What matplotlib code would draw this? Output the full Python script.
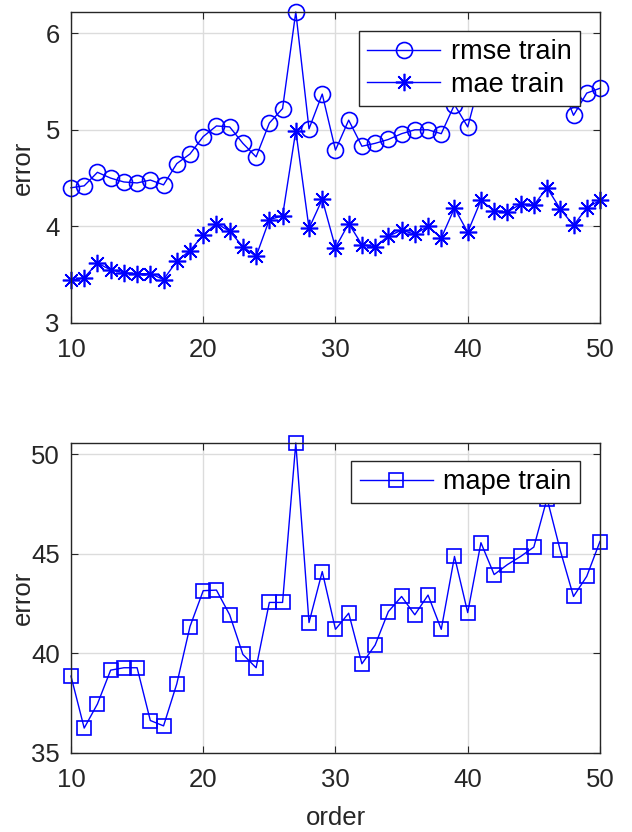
import numpy as np
import matplotlib
matplotlib.use('Agg')
import matplotlib.pyplot as plt

# orders 10..50
order = list(range(10, 51))

rmse_train = [4.40, 4.42, 4.56, 4.50, 4.46, 4.45, 4.48, 4.43, 4.65, 4.75,
              4.93, 5.04, 5.03, 4.86, 4.72, 5.07, 5.22, 6.22, 5.01, 5.37,
              4.79, 5.10, 4.83, 4.86, 4.90, 4.96, 5.00, 5.00, 4.96, 5.26,
              5.03, 5.55, 5.45, 5.45, 5.50, 5.52, 5.75, 5.50, 5.15, 5.38,
              5.43]
mae_train = [3.44, 3.47, 3.62, 3.55, 3.52, 3.51, 3.51, 3.45, 3.64, 3.75,
             3.91, 4.03, 3.95, 3.79, 3.69, 4.07, 4.11, 4.99, 3.98, 4.28,
             3.78, 4.03, 3.81, 3.79, 3.90, 3.96, 3.92, 4.00, 3.88, 4.19,
             3.94, 4.27, 4.16, 4.15, 4.23, 4.22, 4.40, 4.18, 4.01, 4.19,
             4.27]
mape_train = [38.86, 36.25, 37.46, 39.16, 39.28, 39.28, 36.63, 36.36, 38.47, 41.35,
              43.15, 43.18, 41.94, 39.95, 39.28, 42.56, 42.56, 50.57, 41.55, 44.11,
              41.21, 42.02, 39.48, 40.42, 42.10, 42.86, 41.94, 42.93, 41.21, 44.87,
              42.05, 45.56, 43.96, 44.46, 44.87, 45.34, 47.78, 45.17, 42.86, 43.87,
              45.62]

plt.rcParams['font.family'] = ['Liberation Sans', 'DejaVu Sans']
plt.rcParams['font.size'] = 18.5

blue = (0, 0, 1)
axcol = '#262626'
star = (8, 2, 0)


def style_axes(ax):
    ax.grid(True, color='#dcdcdc', linewidth=1)
    ax.set_axisbelow(True)
    for s in ax.spines.values():
        s.set_color(axcol)
        s.set_linewidth(1)
    ax.tick_params(direction='in', top=True, right=True, length=5,
                   color=axcol, labelcolor=axcol)
    ax.tick_params(axis='x', pad=11)
    ax.tick_params(axis='y', pad=8)
    ax.yaxis.set_label_coords(-0.091, 0.5)


fig = plt.figure(figsize=(6.32, 8.32), dpi=100)

ax1 = fig.add_axes([0.1123, 0.6118, 0.837, 0.3738])
ax1.plot(order, rmse_train, color=blue, lw=1, marker='o', ms=11.5,
         mfc='none', mec=blue, mew=1.2, label='rmse train', clip_on=False)
ax1.plot(order, mae_train, color=blue, lw=1, marker=star, ms=12.5,
         mec=blue, mew=1.2, label='mae train', clip_on=False)
ax1.set_xlim(10, 50)
ax1.set_ylim(3, max(rmse_train))
ax1.set_xticks([10, 20, 30, 40, 50])
ax1.set_yticks([3, 4, 5, 6])
ax1.set_ylabel('error', color=axcol, va='center')
style_axes(ax1)
leg = ax1.legend(loc='upper right', bbox_to_anchor=(0.962, 0.939),
                 borderaxespad=0, fancybox=False, framealpha=1,
                 edgecolor='#262626', handlelength=2.7, borderpad=0.3,
                 labelspacing=0.25, handletextpad=0.4, fontsize=19.5)
leg.get_frame().set_linewidth(1)
leg.set_zorder(10)

ax2 = fig.add_axes([0.1123, 0.0950, 0.837, 0.3726])
ax2.plot(order, mape_train, color=blue, lw=1, marker='s', ms=10,
         mfc='none', mec=blue, mew=1.2, label='mape train', clip_on=False)
ax2.set_xlim(10, 50)
ax2.set_ylim(35, max(mape_train))
ax2.set_xticks([10, 20, 30, 40, 50])
ax2.set_yticks([35, 40, 45, 50])
ax2.set_ylabel('error', color=axcol, va='center')
ax2.set_xlabel('order', color=axcol)
style_axes(ax2)
ax2.xaxis.set_label_coords(0.5, -0.171)
leg2 = ax2.legend(loc='upper right', bbox_to_anchor=(0.962, 0.942),
                  borderaxespad=0, fancybox=False, framealpha=1,
                  edgecolor='#262626', handlelength=2.7, borderpad=0.3,
                  handletextpad=0.4, fontsize=19.5)
leg2.get_frame().set_linewidth(1)
leg2.set_zorder(10)

fig.savefig('out.png', dpi=100)
